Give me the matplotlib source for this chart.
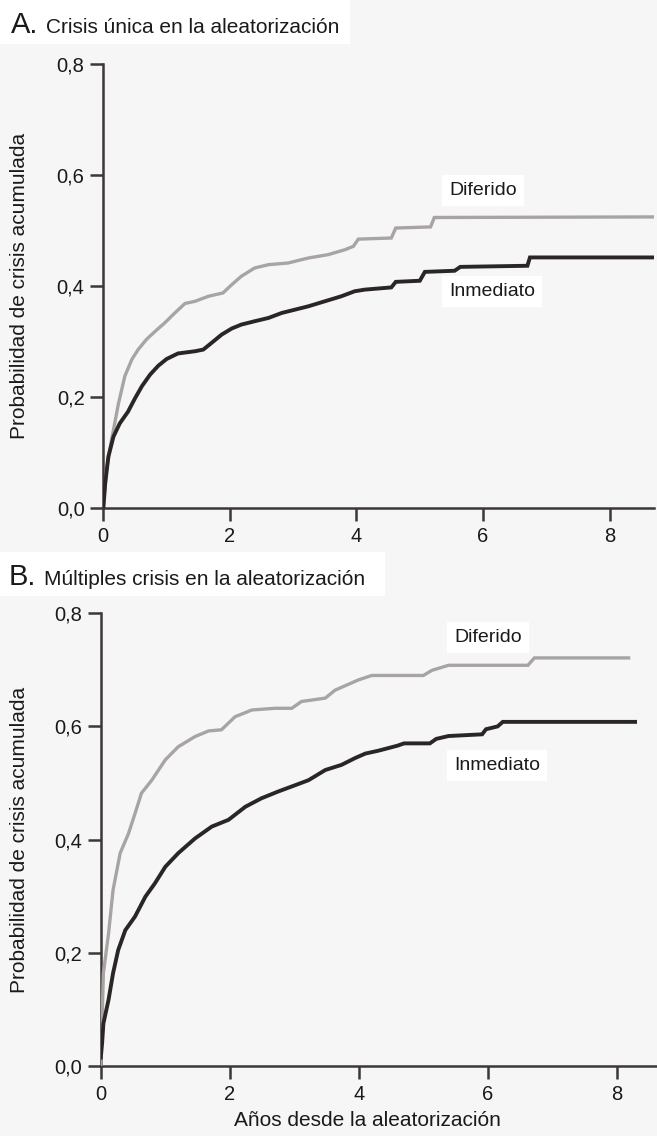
import matplotlib
matplotlib.use('Agg')
from matplotlib import pyplot as plt
from matplotlib.patches import Rectangle

plt.rcParams['font.family'] = ['Liberation Sans', 'DejaVu Sans']

# A. Crisis única - grupo diferido (gris), vértices de la curva
a_dif_x = [0, 0.05, 0.13, 0.24, 0.34, 0.45, 0.55, 0.68, 0.82, 0.97, 1.13, 1.29, 1.45, 1.66, 1.89,
           2.03, 2.18, 2.39, 2.61, 2.92, 3.24, 3.55, 3.82, 3.95, 4.03, 4.55, 4.62, 5.17, 5.23, 8.7]
a_dif_y = [0, 0.069, 0.123, 0.189, 0.238, 0.268, 0.286, 0.304, 0.319, 0.334, 0.352, 0.369, 0.373, 0.382, 0.388,
           0.403, 0.418, 0.433, 0.439, 0.442, 0.451, 0.457, 0.466, 0.472, 0.485, 0.487, 0.505, 0.507, 0.524, 0.525]
# A. Crisis única - grupo inmediato (negro)
a_inm_x = [0, 0.03, 0.08, 0.16, 0.26, 0.39, 0.5, 0.61, 0.74, 0.87, 1.0, 1.18, 1.45, 1.58, 1.71, 1.87,
           2.03, 2.18, 2.39, 2.61, 2.82, 3.03, 3.24, 3.5, 3.76, 3.97, 4.13, 4.55, 4.62, 5.0, 5.08, 5.55, 5.64,
           6.7, 6.74, 8.7]
a_inm_y = [0, 0.045, 0.093, 0.129, 0.153, 0.174, 0.198, 0.22, 0.241, 0.257, 0.269, 0.279, 0.283, 0.286, 0.298, 0.313,
           0.324, 0.331, 0.337, 0.343, 0.352, 0.358, 0.364, 0.373, 0.382, 0.391, 0.394, 0.398, 0.408, 0.41, 0.426, 0.428, 0.435,
           0.437, 0.452, 0.452]

# B. Múltiples crisis - diferido
b_dif_x = [0, 0.04, 0.12, 0.19, 0.3, 0.43, 0.53, 0.63, 0.79, 1.0, 1.2, 1.46, 1.67, 1.87, 2.08, 2.34, 2.7, 2.96,
           3.11, 3.48, 3.63, 3.99, 4.2, 5.0, 5.13, 5.39, 6.62, 6.72, 8.18]
b_dif_y = [0, 0.164, 0.234, 0.311, 0.376, 0.411, 0.446, 0.482, 0.505, 0.541, 0.564, 0.582, 0.592, 0.594, 0.617, 0.629, 0.632, 0.632,
           0.644, 0.65, 0.664, 0.682, 0.69, 0.69, 0.699, 0.708, 0.708, 0.721, 0.721]
# B. Múltiples crisis - inmediato
b_inm_x = [0, 0.02, 0.04, 0.12, 0.19, 0.27, 0.38, 0.53, 0.69, 0.84, 1.0, 1.2, 1.46, 1.72, 1.98, 2.24, 2.49, 2.75,
           3.01, 3.22, 3.48, 3.73, 3.94, 4.1, 4.3, 4.6, 4.7, 5.1, 5.2, 5.39, 5.91, 5.97, 6.15, 6.23, 8.28]
b_inm_y = [0.015, 0.04, 0.075, 0.117, 0.164, 0.205, 0.24, 0.264, 0.299, 0.323, 0.352, 0.376, 0.402, 0.423, 0.435, 0.458, 0.473, 0.485,
           0.496, 0.505, 0.523, 0.532, 0.544, 0.552, 0.557, 0.566, 0.57, 0.57, 0.578, 0.583, 0.586, 0.595, 0.6, 0.608, 0.608]

y_ticks = [0, 0.2, 0.4, 0.6, 0.8]
y_labels = ['0,0', '0,2', '0,4', '0,6', '0,8']
x_ticks = [0, 2, 4, 6, 8]

gris = '#a9a4a4'
negro = '#2b2626'
eje = '#3d3737'

fig = plt.figure(figsize=(6.57, 11.36), dpi=100)
fig.patch.set_facecolor('#f6f6f6')

# fondos blancos detrás de los títulos
fig.patches.append(Rectangle((0, 1 - 44 / 1136), 350 / 657, 44 / 1136, transform=fig.transFigure,
                             facecolor='white', edgecolor='none', zorder=0))
fig.patches.append(Rectangle((0, 1 - 596 / 1136), 385 / 657, 44 / 1136, transform=fig.transFigure,
                             facecolor='white', edgecolor='none', zorder=0))

ax1 = fig.add_axes([103.3 / 657, 1 - 508.3 / 1136, 550.7 / 657, 444 / 1136])
ax2 = fig.add_axes([100.8 / 657, 1 - 1066 / 1136, 556.2 / 657, 452.8 / 1136])

paneles = [
    (ax1, a_dif_x, a_dif_y, a_inm_x, a_inm_y, 8.7, (6.0, 0.572), (6.14, 0.39)),
    (ax2, b_dif_x, b_dif_y, b_inm_x, b_inm_y, 8.62, (6.0, 0.757), (6.14, 0.531)),
]

for ax, dx, dy, ix, iy, xmax, pos_d, pos_i in paneles:
    ax.set_facecolor('none')
    ax.plot(dx, dy, color=gris, lw=2.4, solid_joinstyle='miter', zorder=3)
    ax.plot(ix, iy, color=negro, lw=2.8, solid_joinstyle='miter', zorder=4)
    ax.set_xlim(0, xmax)
    ax.set_ylim(0, 0.8)
    ax.spines['top'].set_visible(False)
    ax.spines['right'].set_visible(False)
    for s in ['left', 'bottom']:
        ax.spines[s].set_color(eje)
        ax.spines[s].set_linewidth(1.8)
    ax.spines['left'].set_bounds(0, 0.8)
    ax.set_yticks(y_ticks)
    ax.set_yticklabels(y_labels)
    ax.set_xticks(x_ticks)
    ax.tick_params(direction='out', length=9.5, width=1.8, color=eje, labelsize=14.5, labelcolor='#1a1a1a')
    ax.tick_params(axis='y', pad=4)
    ax.tick_params(axis='x', pad=4)
    ax.set_ylabel('Probabilidad de crisis acumulada', fontsize=15, color='#1a1a1a')
    ax.text(pos_d[0], pos_d[1], 'Diferido', fontsize=14, ha='center', va='center', color='#1a1a1a',
            bbox=dict(facecolor='white', edgecolor='none', pad=5), zorder=5)
    ax.text(pos_i[0], pos_i[1], 'Inmediato', fontsize=14, ha='center', va='center', color='#1a1a1a',
            bbox=dict(facecolor='white', edgecolor='none', pad=5), zorder=5)

ax1.yaxis.set_label_coords((29 - 103.3) / 550.7, 0.5)
ax2.yaxis.set_label_coords((29 - 100.8) / 556.2, 0.5)

ax2.set_xlabel('Años desde la aleatorización', fontsize=15, color='#1a1a1a')
ax2.xaxis.set_label_coords((367 - 100.8) / 556.2, -(1111 - 1066) / 452.8)

# títulos de los paneles
fig.text(11 / 657, 1 - 33 / 1136, 'A.', fontsize=21, va='baseline', color='#1a1a1a')
fig.text(46 / 657, 1 - 33 / 1136, 'Crisis única en la aleatorización', fontsize=15, va='baseline', color='#1a1a1a')
fig.text(9 / 657, 1 - 585 / 1136, 'B.', fontsize=21, va='baseline', color='#1a1a1a')
fig.text(44 / 657, 1 - 585 / 1136, 'Múltiples crisis en la aleatorización', fontsize=15, va='baseline', color='#1a1a1a')

plt.savefig('out.png', dpi=100, facecolor=fig.get_facecolor())
